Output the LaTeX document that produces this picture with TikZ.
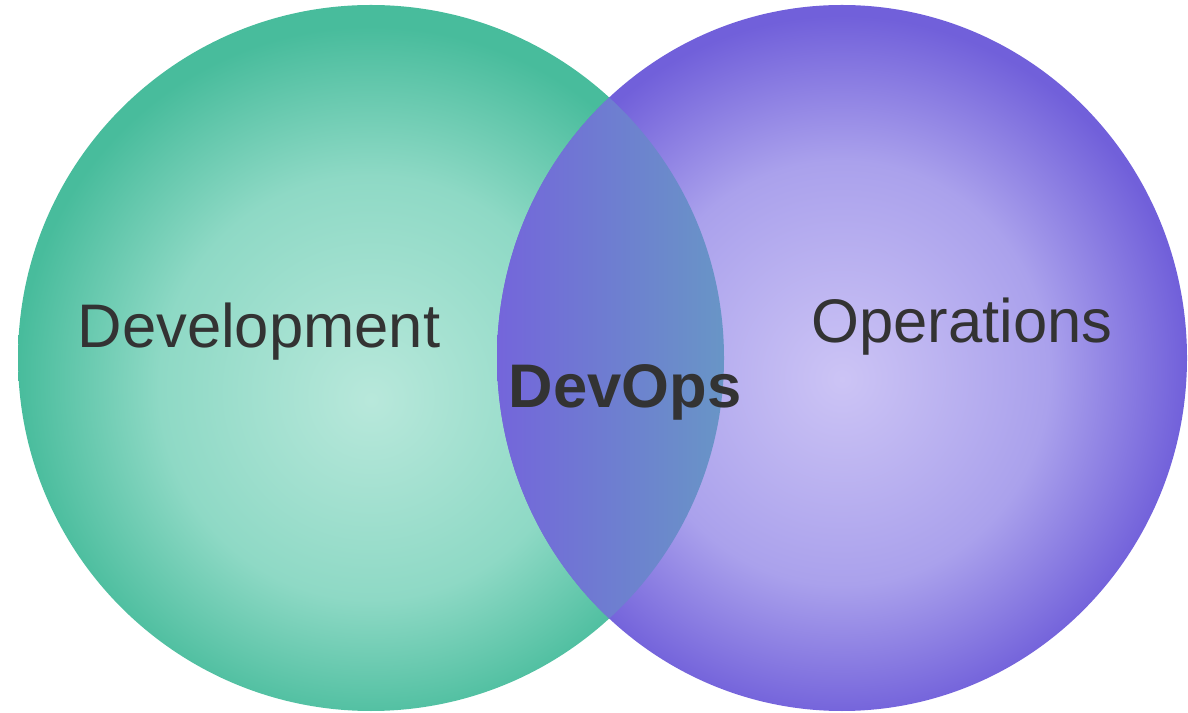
\documentclass[tikz,border=0pt]{standalone}
\usepackage{fontspec}
\setmainfont{Liberation Sans}
\definecolor{devouter}{HTML}{48BC9C}
\definecolor{devmid}{HTML}{8ED9C5}
\definecolor{devinner}{HTML}{B8E8DB}
\definecolor{opsouter}{HTML}{7160DA}
\definecolor{opsmid}{HTML}{AAA1EC}
\definecolor{opsinner}{HTML}{CCC4F5}
\definecolor{lensleft}{HTML}{7465DB}
\definecolor{lensright}{HTML}{6896C6}
\definecolor{labeltext}{HTML}{333333}
\pgfdeclareradialshading{devshade}{\pgfpoint{0bp}{-3bp}}{color(0bp)=(devinner); color(15bp)=(devmid); color(25bp)=(devouter); color(50bp)=(devouter)}
\pgfdeclareradialshading{opsshade}{\pgfpoint{0bp}{-1.5bp}}{color(0bp)=(opsinner); color(15bp)=(opsmid); color(25bp)=(opsouter); color(50bp)=(opsouter)}
\begin{document}
\begin{tikzpicture}[x=0.01cm,y=0.01cm]
	\useasboundingbox (0,0) rectangle (1188,712);
	\coordinate (dev) at (371,354);
	\coordinate (ops) at (842,354);
	\shade[shading=devshade] (dev) circle [radius=353];
	\shade[shading=opsshade] (ops) ellipse [x radius=345,y radius=353];
	\begin{scope}
		\clip (dev) circle [radius=353];
		\clip (ops) ellipse [x radius=345,y radius=353];
		\shade[left color=lensleft,right color=lensright] (495,0) rectangle (727,712);
	\end{scope}
	\node[text=labeltext,font=\fontsize{17.5}{21}\selectfont,anchor=base,inner sep=0] (devlabel) at (259,364) {Development};
	\node[text=labeltext,font=\fontsize{17.5}{21}\selectfont,anchor=base,inner sep=0] (opslabel) at (962,369) {Operations};
	\node[text=labeltext,font=\fontsize{17.5}{21}\selectfont\bfseries,anchor=base,inner sep=0] (devopslabel) at (625,304) {DevOps};
\end{tikzpicture}
\end{document}
